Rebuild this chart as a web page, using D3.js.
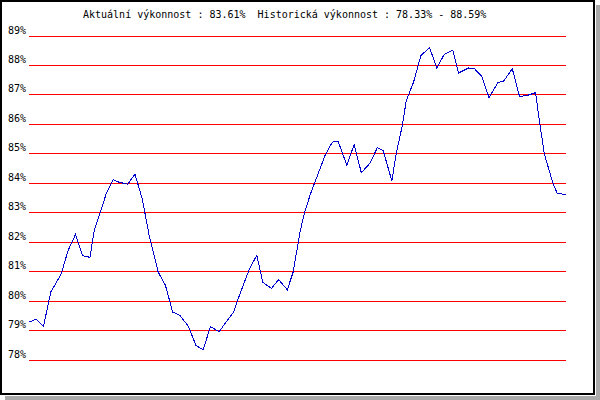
<!DOCTYPE html>
<html>
<head>
<meta charset="utf-8">
<script src="https://cdn.jsdelivr.net/npm/d3@7"></script>
<style>
  html, body { margin: 0; padding: 0; background: #fff; }
  svg { display: block; }
  text { font-family: "DejaVu Sans Mono", monospace; font-size: 10px; fill: #000; white-space: pre; }
</style>
</head>
<body>
<svg id="chart" width="600" height="400"></svg>
<script>
// ---- data ----
const titleText = "Aktuální výkonnost : 83.61%  Historická výkonnost : 78.33% - 88.59%";
const yTicks = [78, 79, 80, 81, 82, 83, 84, 85, 86, 87, 88, 89];
const days = [0, 5, 10, 15, 17, 22, 27, 32, 37, 42, 45, 50, 53, 58, 62, 68, 73, 78, 83, 89,
  94, 99, 104, 110, 115, 120, 125, 128, 131, 135, 141, 145, 152, 157, 161, 167, 172, 178, 182, 187,
  190, 194, 197, 204, 209, 213, 219, 224, 229, 235, 240, 244, 250, 253, 257, 260, 265, 270, 276, 281,
  286, 292, 296, 303, 307, 312, 317, 323, 327, 333, 338, 343, 349, 352, 355, 361, 364, 370];
const performance = [79.27, 79.37, 79.13, 80.29, 80.46, 80.88, 81.71, 82.24, 81.52, 81.47,
  82.39, 83.12, 83.60, 84.10, 84.02, 83.95, 84.29, 83.46, 82.16, 80.97,
  80.52, 79.61, 79.50, 79.11, 78.48, 78.33, 79.11, 79.03, 78.94, 79.22,
  79.61, 80.18, 81.09, 81.54, 80.63, 80.41, 80.71, 80.37, 80.97, 82.39,
  83.01, 83.63, 84.02, 84.93, 85.38, 85.41, 84.59, 85.30, 84.34, 84.67,
  85.19, 85.10, 84.06, 84.99, 85.89, 86.80, 87.42, 88.32, 88.59, 87.90,
  88.35, 88.51, 87.73, 87.90, 87.87, 87.61, 86.89, 87.40, 87.45, 87.87,
  86.93, 86.96, 87.06, 86.00, 84.99, 83.99, 83.63, 83.61];

// ---- drawing ----
const svg = d3.select("#chart");

// drop shadow
svg.append("rect").attr("x", 596).attr("y", 5).attr("width", 4).attr("height", 395)
  .attr("fill", "#aaaaaa").attr("shape-rendering", "crispEdges");
svg.append("rect").attr("x", 5).attr("y", 396).attr("width", 595).attr("height", 4)
  .attr("fill", "#aaaaaa").attr("shape-rendering", "crispEdges");
// frame
svg.append("rect").attr("x", 1).attr("y", 1).attr("width", 593).attr("height", 393)
  .attr("fill", "#fff").attr("stroke", "#000").attr("stroke-width", 2)
  .attr("shape-rendering", "crispEdges");

const x = d3.scaleLinear().domain([d3.min(days), d3.max(days)]).range([29, 566]);
const y = d3.scaleLinear().domain([78, 89]).range([359.5, 35.5]);

// title
svg.append("text").attr("x", 83).attr("y", 18).attr("xml:space", "preserve").text(titleText);

// grid lines + labels
const g = svg.append("g");
g.selectAll("line.grid").data(yTicks).join("line")
  .attr("class", "grid")
  .attr("x1", 29).attr("x2", 566)
  .attr("y1", d => Math.round(y(d)) + 0.5).attr("y2", d => Math.round(y(d)) + 0.5)
  .attr("stroke", "#ff0000").attr("stroke-width", 1)
  .attr("shape-rendering", "crispEdges");
g.selectAll("text.lab").data(yTicks).join("text")
  .attr("class", "lab")
  .attr("x", 8).attr("y", d => Math.round(y(d)) - 2)
  .text(d => d + "%");

// series line
const pts = days.map((d, i) => [d, performance[i]]);
svg.append("path")
  .datum(pts)
  .attr("fill", "none")
  .attr("stroke", "#0000cc")
  .attr("stroke-width", 1)
  .attr("shape-rendering", "crispEdges")
  .attr("d", d3.line().x(d => x(d[0])).y(d => y(d[1])));
</script>
</body>
</html>
